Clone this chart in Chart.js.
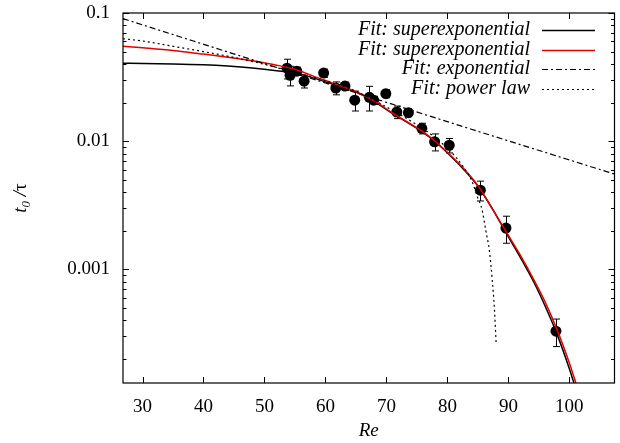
<!DOCTYPE html>
<html><head><meta charset="utf-8">
<script src="https://cdn.jsdelivr.net/npm/chart.js@4.4.0/dist/chart.umd.min.js"></script>
<style>html,body{margin:0;padding:0;background:#fff}</style>
</head><body>
<canvas id="c" width="620" height="443"></canvas>
<script>
// ---- measured data (Re, t0/tau, error) ----
const reData   = [53.7, 54.2, 55.3, 56.5, 59.7, 61.7, 63.2, 64.8, 67.2, 67.9, 69.9, 71.7, 73.6, 75.8, 77.9, 80.3, 85.4, 89.6, 97.8];
const rateData = [0.0371, 0.0327, 0.0352, 0.0294, 0.0340, 0.0260, 0.0269, 0.0209, 0.0220, 0.0209, 0.0235, 0.0169, 0.0167, 0.0126, 0.0099, 0.0093, 0.00415, 0.0021, 0.00033];
const rateErr  = [0.0065, 0.0057, 0.0026, 0.0034, 0.0025, 0.0030, 0.0020, 0.0037, 0.0048, 0.0015, 0.0017, 0.0019, 0.0012, 0.0012, 0.0015, 0.0012, 0.00073, 0.00050, 0.00008];

// ---- fit curves ----
const superBlackRe = [26.8, 30, 35, 40, 44, 48, 52, 55.7, 58, 61.2, 65.3, 68.6, 70.7, 73, 75.6, 78, 81.1, 82.7, 85, 87.5, 89.8, 92, 94.2, 96, 98, 100, 100.8, 102];
const superBlackY  = [0.0405, 0.0404, 0.0401, 0.0395, 0.0386, 0.0373, 0.0355, 0.0335, 0.0312, 0.0278, 0.0238, 0.0196, 0.0168, 0.0144, 0.0121, 0.0099, 0.0072, 0.0060, 0.00445, 0.00290, 0.00186, 0.00123, 0.00079, 0.00052, 0.00031, 0.000168, 0.000128, 0.00009];
const superRedRe   = [26.8, 30, 35, 40, 44, 48, 52, 55.7, 58, 61.2, 65.3, 68.6, 70.7, 73, 75.6, 78, 81.1, 82.7, 85, 87.5, 89.8, 92, 94.2, 96, 98, 100, 101.1, 102];
const superRedY    = [0.0550, 0.0535, 0.0510, 0.0478, 0.0452, 0.0424, 0.0392, 0.0355, 0.0322, 0.0284, 0.0240, 0.0198, 0.0169, 0.0145, 0.0122, 0.0100, 0.0073, 0.0061, 0.0045, 0.0029, 0.00191, 0.00128, 0.000826, 0.00056, 0.000336, 0.000186, 0.000129, 0.0001];
const expRe        = [26.8, 84.4, 107.4];
const expY         = [0.0903, 0.0122, 0.00554];
const powRe        = [26.8, 30, 35, 40, 45, 50, 55, 60, 65, 70, 75, 78, 80, 81.5, 82.7, 84, 84.9, 85.7, 86.3, 86.9, 87.35, 87.7, 88.0];
const powY         = [0.0630, 0.0605, 0.0550, 0.0500, 0.0450, 0.0398, 0.0345, 0.0296, 0.0245, 0.0185, 0.0134, 0.0107, 0.0088, 0.0074, 0.0062, 0.0049, 0.0037, 0.0029, 0.0020, 0.00138, 0.00083, 0.00050, 0.00026];

const xTicks = [30, 40, 50, 60, 70, 80, 90, 100];
const yTicks = [0.1, 0.01, 0.001];
const legendLabels = ['Fit: superexponential', 'Fit: superexponential', 'Fit: exponential', 'Fit: power law'];

const pts = (xs, ys) => xs.map((x, i) => ({x: x, y: ys[i]}));
const SERIF = '"Liberation Serif", "Times New Roman", Times, serif';

const lineStyles = [
  {color: '#000000', width: 1.5, dash: []},
  {color: '#e60000', width: 1.5, dash: []},
  {color: '#000000', width: 1.2, dash: [6, 3, 2, 3]},
  {color: '#000000', width: 1.2, dash: [2, 3]}
];

const errorBarPlugin = {
  id: 'errbars',
  beforeDatasetsDraw(chart) {
    const c = chart.ctx, xs = chart.scales.x, ys = chart.scales.y, a = chart.chartArea;
    c.save();
    c.beginPath(); c.rect(a.left, a.top, a.right - a.left, a.bottom - a.top); c.clip();
    c.strokeStyle = '#000'; c.lineWidth = 1;
    reData.forEach((r, i) => {
      const px = Math.round(xs.getPixelForValue(r)) + 0.5;
      const pt = ys.getPixelForValue(rateData[i] + rateErr[i]);
      const pb = ys.getPixelForValue(rateData[i] - rateErr[i]);
      c.beginPath();
      c.moveTo(px, pt); c.lineTo(px, pb);
      c.moveTo(px - 3.5, pt); c.lineTo(px + 3.5, pt);
      c.moveTo(px - 3.5, pb); c.lineTo(px + 3.5, pb);
      c.stroke();
    });
    c.restore();
  }
};

const decorPlugin = {
  id: 'decor',
  afterDraw(chart) {
    const c = chart.ctx, xs = chart.scales.x, ys = chart.scales.y, a = chart.chartArea;
    c.save();
    c.strokeStyle = '#000'; c.lineWidth = 1.2; c.setLineDash([]);
    c.strokeRect(a.left, a.top, a.right - a.left, a.bottom - a.top);
    c.lineWidth = 1;
    c.beginPath();
    xTicks.forEach(v => {
      const p = Math.round(xs.getPixelForValue(v)) + 0.5;
      c.moveTo(p, a.bottom); c.lineTo(p, a.bottom - 6);
      c.moveTo(p, a.top); c.lineTo(p, a.top + 6);
    });
    for (let e = -4; e <= -1; e++) {
      for (let m = 1; m <= 9; m++) {
        const v = m * Math.pow(10, e);
        if (v < ys.min * 0.999 || v > ys.max * 1.001) continue;
        const p = Math.round(ys.getPixelForValue(v)) + 0.5;
        const len = m === 1 ? 6 : 3.5;
        c.moveTo(a.left, p); c.lineTo(a.left + len, p);
        c.moveTo(a.right, p); c.lineTo(a.right - len, p);
      }
    }
    c.stroke();

    // legend
    c.font = 'italic 20px ' + SERIF;
    c.fillStyle = '#000';
    c.textAlign = 'right'; c.textBaseline = 'middle';
    const rows = [30, 49.5, 69, 88.5];
    legendLabels.forEach((t, i) => {
      c.fillText(t, 530, rows[i]);
      const s = lineStyles[i];
      c.strokeStyle = s.color; c.lineWidth = s.width; c.setLineDash(s.dash);
      c.beginPath(); c.moveTo(542, Math.round(rows[i]) + 0.5); c.lineTo(595, Math.round(rows[i]) + 0.5); c.stroke();
    });
    c.setLineDash([]);

    // x title
    c.textAlign = 'center'; c.textBaseline = 'middle';
    c.font = 'italic 19px ' + SERIF;
    c.fillText('Re', (a.left + a.right) / 2, 431);

    // y title (rotated): t0 /τ
    c.translate(20, (a.top + a.bottom) / 2);
    c.rotate(-Math.PI / 2);
    c.textAlign = 'left'; c.textBaseline = 'alphabetic';
    const big = 'italic 19px ' + SERIF, small = 'italic 13px ' + SERIF, up = '19px ' + SERIF;
    c.font = big; const w1 = c.measureText('t').width;
    c.font = small; const w2 = c.measureText('0').width;
    c.font = big; const w3 = c.measureText(' /').width;
    c.font = up; const w4 = c.measureText('τ').width;
    let x0 = -(w1 + w2 + w3 + w4) / 2;
    c.font = big; c.fillText('t', x0, 6); x0 += w1;
    c.font = small; c.fillText('0', x0, 10); x0 += w2;
    c.font = big; c.fillText(' /', x0, 6); x0 += w3;
    c.font = up; c.fillText('τ', x0, 6);
    c.restore();
  }
};

const lineDs = (xs, ys, i, order) => ({
  type: 'line', data: pts(xs, ys), showLine: true, pointRadius: 0,
  borderColor: lineStyles[i].color, borderWidth: lineStyles[i].width, borderDash: lineStyles[i].dash,
  fill: false, cubicInterpolationMode: 'monotone', order: order
});

function build() {
  new Chart(document.getElementById('c'), {
    type: 'scatter',
    data: {
      datasets: [
        {data: pts(reData, rateData), pointRadius: 5.5, pointBackgroundColor: '#000', pointBorderWidth: 0, showLine: false, order: 10},
        lineDs(superBlackRe, superBlackY, 0, 4),
        lineDs(superRedRe, superRedY, 1, 3),
        lineDs(expRe, expY, 2, 2),
        lineDs(powRe, powY, 3, 1)
      ]
    },
    options: {
      responsive: false, animation: false, devicePixelRatio: 1,
      layout: {padding: {top: 13, right: 2, left: 0, bottom: 0}},
      plugins: {legend: {display: false}, tooltip: {enabled: false}},
      scales: {
        x: {
          type: 'linear', min: 26.8, max: 107.4,
          grid: {display: false, drawTicks: false}, border: {display: false},
          afterBuildTicks: s => { s.ticks = xTicks.map(v => ({value: v})); },
          afterFit: s => { s.height = 60; s.paddingLeft = 0; s.paddingRight = 0; },
          ticks: {padding: 13, color: '#000', font: {family: SERIF, size: 19}, maxRotation: 0, autoSkip: false, callback: v => String(v)}
        },
        y: {
          type: 'logarithmic', min: 1.3e-4, max: 0.1,
          grid: {display: false, drawTicks: false}, border: {display: false},
          afterBuildTicks: s => { s.ticks = yTicks.map(v => ({value: v})); },
          afterFit: s => { s.width = 123; s.paddingTop = 0; s.paddingBottom = 0; },
          ticks: {padding: 13, color: '#000', font: {family: SERIF, size: 19}, autoSkip: false, callback: v => String(v)}
        }
      }
    },
    plugins: [errorBarPlugin, decorPlugin]
  });
}

Promise.all([
  document.fonts.load('19px "Liberation Serif"'),
  document.fonts.load('italic 19px "Liberation Serif"'),
  document.fonts.load('italic 13px "Liberation Serif"')
]).then(build, build);
</script>
</body></html>
